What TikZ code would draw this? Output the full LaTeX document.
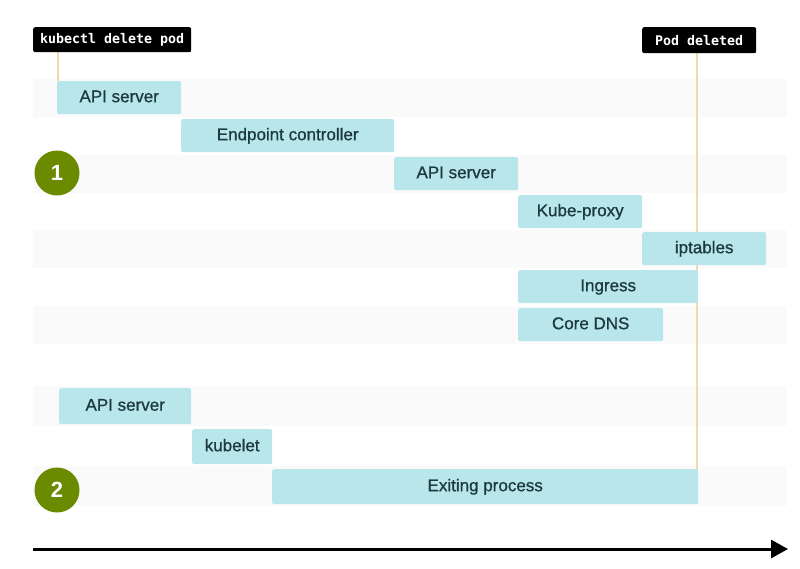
\documentclass[tikz,border=0pt]{standalone}
\usepackage{fontspec}
\setmainfont{Liberation Sans}
\newfontfamily\boxfont{Liberation Sans}[FakeBold=0.8]
\newfontfamily\monofont{DejaVu Sans Mono}
\usetikzlibrary{arrows.meta}
\pgfdeclarelayer{bandlayer}
\pgfdeclarelayer{linelayer}
\pgfsetlayers{bandlayer,linelayer,main}
\definecolor{band}{HTML}{FAFAFA}
\definecolor{boxfill}{HTML}{B8E6EA}
\definecolor{boxtext}{HTML}{1D3A3F}
\definecolor{olive}{HTML}{6A8A00}
\definecolor{tan}{HTML}{F2D7B0}
\tikzset{
  bandrow/.style={fill=band, draw=none},
  box/.style={fill=boxfill, draw=none, rounded corners=2pt, anchor=north west,
    inner sep=0pt, text=boxtext, text height=12pt, text depth=3pt,
    font=\boxfont\fontsize{17}{19}\selectfont},
  tag/.style={fill=black, rounded corners=2pt, text=white, inner sep=0pt,
    anchor=north west, font=\monofont\bfseries\fontsize{13.3}{15}\selectfont},
  num/.style={circle, fill=olive, text=white, minimum size=45pt, inner sep=0pt,
    font=\bfseries\fontsize{22}{24}\selectfont},
  tline/.style={draw=tan, line width=2pt},
  timeaxis/.style={draw=black, line width=3pt, -{Triangle[length=17pt,width=18pt]}}
}
\begin{document}
\begin{tikzpicture}[x=1pt,y=-1pt]
\begin{pgfonlayer}{bandlayer}
\useasboundingbox[fill=white] (0,0) rectangle (800,568);
\fill[bandrow] (33,79) rectangle (787,117);
\fill[bandrow] (33,155) rectangle (787,193);
\fill[bandrow] (33,230) rectangle (787,268);
\fill[bandrow] (33,306) rectangle (787,344);
\fill[bandrow] (33,386) rectangle (787,426);
\fill[bandrow] (33,466) rectangle (787,506);
\end{pgfonlayer}
% section 1
\node[box, minimum width=124pt, minimum height=33pt] (a1) at (57,81) {API server};
\node[box, minimum width=213pt, minimum height=33pt] (ec) at (181,119) {Endpoint controller};
\node[box, minimum width=124pt, minimum height=33pt] (a2) at (394,157) {API server};
\node[box, minimum width=124pt, minimum height=33pt] (kp) at (518,195) {Kube-proxy};
\node[box, minimum width=124pt, minimum height=33pt] (ip) at (642,232) {iptables};
\node[box, minimum width=180pt, minimum height=33pt] (ig) at (518,270) {Ingress};
\node[box, minimum width=145pt, minimum height=33pt] (dns) at (518,308) {Core DNS};
% section 2
\node[box, minimum width=132pt, minimum height=36pt] (a3) at (59,388) {API server};
\node[box, minimum width=80pt, minimum height=35pt] (kl) at (192,429) {kubelet};
\node[box, minimum width=426pt, minimum height=35pt] (ex) at (272,469) {Exiting process};
% tags
\node[tag, minimum width=158pt, minimum height=25pt] (k) at (33,27) {kubectl delete pod};
\node[tag, minimum width=114pt, minimum height=26pt] (pd) at (642,27) {Pod deleted};
% numbers
\node[num] (n1) at (57,173) {1};
\node[num] (n2) at (57,490) {2};
% timeline markers
\begin{pgfonlayer}{linelayer}
\draw[tline] ([xshift=1pt]k.south -| a1.west) -- ([xshift=1pt]a1.north west);
\draw[tline] ([xshift=-1pt]pd.south -| ex.east) -- ([xshift=-1pt,yshift=-10pt]ex.north east);
\end{pgfonlayer}
% time axis
\coordinate (t0) at (33,549);
\coordinate (t1) at (788,549);
\draw[timeaxis] (t0) -- (t1);
\end{tikzpicture}
\end{document}
